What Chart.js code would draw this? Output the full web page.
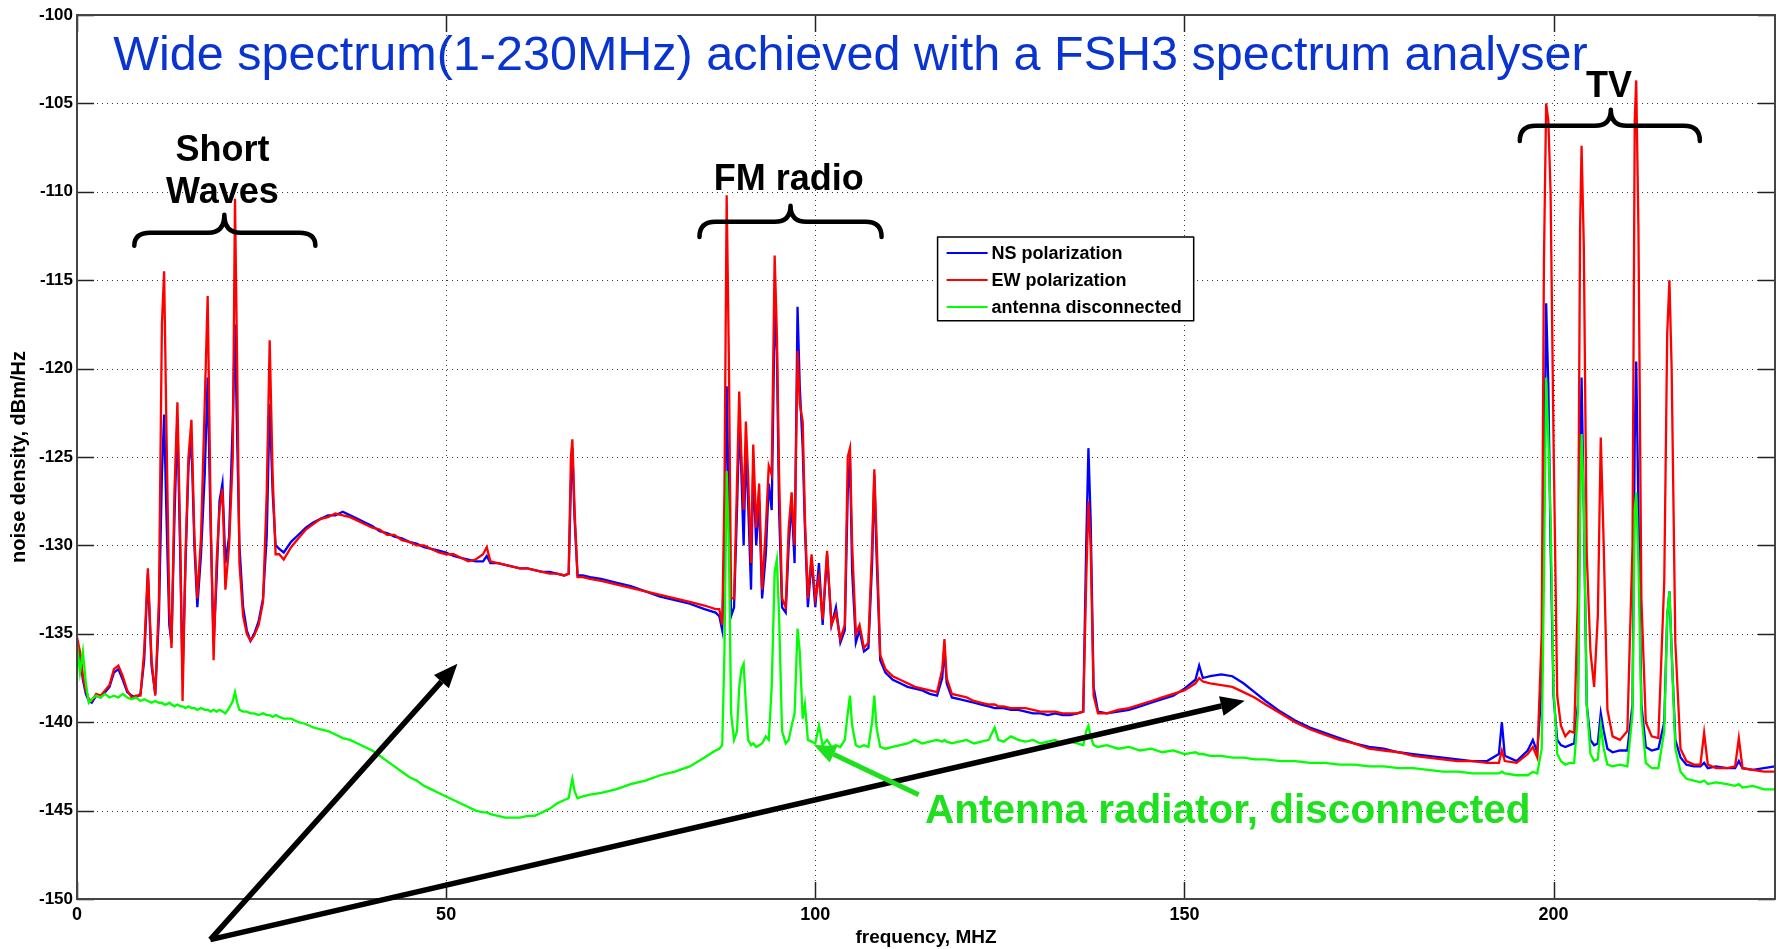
<!DOCTYPE html>
<html><head><meta charset="utf-8">
<script src="https://cdn.jsdelivr.net/npm/chart.js@4.4.0/dist/chart.umd.min.js"></script>
<style>html,body{margin:0;padding:0;background:#fff;}#wrap{width:1781px;height:949px;}</style>
</head><body><div id="wrap"><canvas id="c" width="1781" height="949"></canvas></div>
<script>
// ---------- data ----------
const freqMHz = [
  0,0.4,0.8,1.2,1.6,2,2.6,3.2,3.8,4.4,5,5.6,6.2,6.8,7.4,8,8.6,9.1,9.6,10.1,10.6,11.1,11.5,11.8,12.1,12.5,12.8,13.2,13.6,14,14.3,14.7,15.1,15.5,15.9,16.3,16.8,17.3,17.7,18.1,18.5,18.9,19.3,19.7,20.1,20.6,21.1,21.4,21.7,22,22.5,23,23.5,24,24.6,25.2,25.7,26.1,26.5,26.9,27.4,28,
  29,30,31,32,33,34,35,36,37,38,39,40,41,42,43,44,45,46,47,48,49,50,51,52,53,54,55,55.5,56,57,58,59,60,61,62,63,64,65,66,66.6,66.9,67.1,67.4,67.8,68.5,69.5,71,73,75,77,79,81,83,85,86.5,
  87,87.4,87.7,88,88.3,88.6,89,89.4,89.7,90,90.3,90.6,90.9,91.3,91.6,92,92.4,92.8,93.3,93.7,94.1,94.5,94.8,95.1,95.5,96,96.4,96.8,97.2,97.6,97.9,98.3,98.6,99,99.5,100,100.5,101,101.6,102.2,102.8,103.4,104,104.4,104.7,105,105.5,106,106.6,107.2,107.7,108,108.3,108.8,109.5,110.5,111.5,
  112.5,113.5,114.5,115.5,116.5,117.2,117.5,117.8,118.5,119.5,120.5,121.5,122.5,123.5,124.3,124.8,125.5,126.5,127.5,128.5,129.5,130.5,131.5,132.5,133.5,134.5,135.5,136.3,136.7,137,137.3,137.7,138.3,139.5,141,142.5,144,145.5,147,148.5,150,151.5,152,152.5,153.5,155,156.5,158,159.5,161,163,165,167,169,171,173,175,177,179,181,183,185,187,189,191,192.6,193,193.4,195,196.5,197.2,197.8,
  198.4,198.7,199,199.3,199.6,200,200.5,201,201.6,202.2,202.8,203.3,203.6,203.8,204.1,204.5,205,205.5,206,206.4,206.8,207.3,208,209,210,210.7,211,211.2,211.5,211.9,212.5,213.3,214.2,215,215.4,215.7,216,216.5,217.2,218,219,219.9,220.4,220.9,222,223.5,224.6,225.1,225.6,227,228.5,230
];
const nsPolarization = [
  -135.4,-136.2,-137.6,-138.4,-138.8,-138.9,-138.5,-138.6,-138.3,-138.0,-137.2,-137.0,-137.6,-138.3,-138.5,-138.6,-138.4,-136.5,-131.6,-136.8,-138.4,-134.0,-126.0,-122.6,-128.0,-134.5,-135.5,-128.5,-122.8,-131.0,-137.5,-131.0,-125.5,-124.0,-130.0,-133.5,-130.5,-126.0,-120.5,-129.0,-135.5,-132.0,-127.5,-126.5,-131.0,-129.5,-123.0,-117.5,-124.0,-130.0,-133.5,-134.8,-135.4,-135.0,-134.3,-133.0,-129.5,-122.0,-127.0,-130.0,-130.2,-130.4,
  -129.8,-129.4,-129.0,-128.7,-128.5,-128.3,-128.3,-128.1,-128.3,-128.5,-128.7,-128.9,-129.2,-129.3,-129.5,-129.6,-129.8,-129.9,-130.1,-130.2,-130.3,-130.4,-130.6,-130.7,-130.8,-130.9,-130.9,-130.6,-131.0,-131.0,-131.1,-131.2,-131.3,-131.3,-131.4,-131.5,-131.5,-131.6,-131.7,-131.6,-126.5,-124.5,-128.5,-131.7,-131.7,-131.8,-131.9,-132.1,-132.3,-132.6,-132.9,-133.1,-133.3,-133.6,-133.8,
  -134.0,-134.8,-130.0,-121.0,-128.0,-134.0,-133.5,-128.0,-123.0,-126.0,-130.0,-124.5,-127.5,-132.5,-125.5,-130.0,-127.5,-133.0,-130.5,-126.5,-128.0,-116.8,-119.0,-128.0,-133.5,-133.8,-130.0,-127.5,-131.0,-116.5,-121.0,-124.5,-129.0,-133.5,-130.8,-133.5,-131.0,-134.5,-130.5,-134.5,-133.5,-135.5,-134.8,-127.0,-125.0,-131.5,-135.5,-134.8,-136.0,-135.8,-131.0,-126.0,-130.5,-136.5,-137.2,-137.6,-137.8,
  -138.0,-138.1,-138.2,-138.4,-138.5,-137.5,-135.8,-137.8,-138.6,-138.7,-138.8,-138.9,-139.0,-139.1,-139.2,-139.2,-139.2,-139.3,-139.3,-139.4,-139.5,-139.5,-139.6,-139.5,-139.6,-139.6,-139.5,-139.4,-130.0,-124.5,-128.5,-138.0,-139.4,-139.5,-139.4,-139.3,-139.1,-138.9,-138.7,-138.5,-138.1,-137.6,-136.8,-137.5,-137.4,-137.3,-137.4,-137.8,-138.3,-138.8,-139.4,-139.9,-140.3,-140.6,-140.9,-141.2,-141.4,-141.5,-141.7,-141.8,-141.9,-142.0,-142.1,-142.2,-142.2,-141.8,-140.0,-141.9,-142.2,-141.6,-141.0,-141.7,
  -138.0,-128.0,-116.3,-121.0,-130.0,-138.5,-141.0,-141.3,-141.4,-141.3,-141.2,-139.0,-126.0,-120.5,-128.0,-139.0,-141.0,-141.3,-141.2,-139.5,-140.5,-141.5,-141.7,-141.6,-141.6,-139.0,-124.0,-119.6,-128.0,-139.0,-141.4,-141.6,-141.5,-140.0,-134.0,-132.6,-136.0,-141.0,-142.0,-142.4,-142.5,-142.5,-142.3,-142.6,-142.5,-142.6,-142.6,-142.2,-142.6,-142.7,-142.6,-142.5
];
const ewPolarization = [
  -135.2,-136.0,-137.4,-138.2,-138.7,-138.8,-138.4,-138.5,-138.2,-137.9,-137.0,-136.8,-137.4,-138.2,-138.6,-138.5,-138.5,-136.0,-131.3,-136.5,-138.5,-133.0,-117.5,-114.5,-123.0,-133.5,-135.8,-127.0,-121.9,-130.0,-138.8,-130.5,-125.0,-122.9,-129.5,-133.0,-129.5,-122.0,-115.9,-128.0,-136.5,-131.0,-128.0,-126.8,-132.5,-130.0,-125.0,-110.4,-120.0,-131.0,-134.0,-135.0,-135.4,-135.1,-134.5,-133.2,-127.0,-118.4,-126.0,-130.5,-130.5,-130.8,
  -130.1,-129.6,-129.1,-128.8,-128.5,-128.4,-128.2,-128.3,-128.4,-128.6,-128.8,-129.0,-129.1,-129.4,-129.4,-129.7,-129.8,-130.0,-130.0,-130.2,-130.4,-130.5,-130.5,-130.7,-130.9,-130.8,-130.5,-130.1,-130.9,-131.0,-131.1,-131.2,-131.3,-131.3,-131.4,-131.5,-131.6,-131.6,-131.7,-131.6,-125.0,-124.0,-128.0,-131.8,-131.8,-131.9,-132.0,-132.2,-132.4,-132.6,-132.8,-133.0,-133.2,-133.4,-133.6,
  -133.6,-134.5,-127.0,-110.2,-119.5,-133.0,-133.0,-126.5,-121.3,-125.0,-128.0,-123.0,-126.0,-131.0,-124.3,-129.0,-126.5,-132.5,-129.0,-125.5,-126.0,-113.6,-118.0,-126.0,-133.0,-133.5,-129.0,-127.0,-130.0,-119.0,-122.0,-123.0,-128.5,-133.0,-130.5,-133.0,-131.8,-134.2,-130.3,-134.5,-133.8,-135.3,-134.5,-125.0,-124.5,-130.0,-135.0,-134.5,-135.8,-135.5,-130.0,-125.7,-129.5,-136.2,-137.0,-137.4,-137.6,
  -137.8,-138.0,-138.1,-138.2,-138.3,-137.0,-135.3,-137.5,-138.4,-138.5,-138.6,-138.8,-138.9,-139.0,-139.0,-139.1,-139.1,-139.2,-139.2,-139.2,-139.3,-139.4,-139.4,-139.4,-139.5,-139.5,-139.5,-139.4,-132.0,-127.5,-130.0,-138.5,-139.5,-139.5,-139.3,-139.2,-139.0,-138.8,-138.6,-138.4,-138.2,-137.8,-137.5,-137.7,-137.8,-137.9,-138.0,-138.3,-138.6,-139.0,-139.5,-140.0,-140.4,-140.7,-141.0,-141.2,-141.5,-141.6,-141.7,-141.9,-142.0,-142.1,-142.2,-142.2,-142.3,-142.3,-141.6,-142.2,-142.3,-141.8,-141.4,-142.0,
  -135.0,-114.0,-105.0,-106.0,-110.0,-124.0,-138.5,-140.2,-140.8,-140.5,-140.6,-133.0,-112.0,-107.4,-113.0,-130.5,-136.0,-138.0,-134.0,-123.9,-130.0,-139.3,-140.8,-141.0,-140.5,-130.0,-106.0,-103.7,-112.0,-133.0,-140.0,-140.8,-140.9,-132.0,-118.0,-115.0,-120.0,-135.5,-141.5,-142.2,-142.4,-142.4,-140.6,-142.4,-142.6,-142.6,-142.5,-140.9,-142.6,-142.7,-142.8,-142.8
];
const antennaDisconnected = [
  -135.6,-137.2,-136.0,-137.8,-138.9,-138.7,-138.5,-138.6,-138.4,-138.6,-138.5,-138.6,-138.4,-138.6,-138.7,-138.6,-138.8,-138.7,-138.8,-138.9,-138.8,-138.9,-138.9,-139.0,-139.0,-138.9,-139.0,-139.1,-139.0,-139.1,-139.1,-139.2,-139.1,-139.2,-139.2,-139.3,-139.2,-139.3,-139.3,-139.4,-139.3,-139.4,-139.3,-139.4,-139.5,-139.2,-138.8,-138.3,-138.9,-139.3,-139.4,-139.4,-139.5,-139.5,-139.6,-139.5,-139.6,-139.6,-139.7,-139.6,-139.7,-139.8,
  -139.8,-140.0,-140.1,-140.3,-140.4,-140.5,-140.7,-140.9,-141.0,-141.2,-141.4,-141.6,-141.9,-142.2,-142.5,-142.8,-143.1,-143.3,-143.6,-143.8,-144.0,-144.2,-144.4,-144.6,-144.8,-145.0,-145.1,-145.1,-145.2,-145.3,-145.4,-145.4,-145.4,-145.3,-145.3,-145.1,-144.9,-144.6,-144.4,-144.3,-143.6,-143.2,-143.9,-144.3,-144.2,-144.1,-144.0,-143.8,-143.5,-143.3,-143.0,-142.8,-142.5,-142.0,-141.6,
  -141.5,-141.3,-136.0,-125.8,-130.0,-139.5,-141.0,-140.5,-138.0,-137.0,-136.7,-139.0,-141.0,-141.3,-141.2,-141.4,-141.3,-141.2,-140.8,-141.0,-138.0,-131.5,-130.8,-134.0,-140.5,-141.2,-141.0,-140.2,-139.5,-134.7,-136.0,-139.8,-139.0,-141.0,-141.1,-141.2,-140.2,-141.3,-141.0,-141.4,-141.3,-141.4,-141.0,-139.5,-138.5,-140.2,-141.3,-141.4,-141.3,-141.4,-140.0,-138.5,-140.3,-141.4,-141.5,-141.4,-141.3,
  -141.2,-141.0,-141.2,-141.1,-141.0,-141.1,-141.0,-141.1,-141.2,-141.1,-141.0,-141.2,-141.1,-141.0,-140.3,-141.0,-141.1,-140.8,-141.0,-141.1,-141.0,-141.2,-141.1,-141.0,-141.2,-141.1,-141.2,-141.3,-140.5,-140.2,-140.8,-141.3,-141.4,-141.3,-141.5,-141.4,-141.6,-141.5,-141.7,-141.6,-141.8,-141.7,-141.8,-141.8,-141.9,-141.9,-142.0,-142.0,-142.1,-142.1,-142.2,-142.2,-142.3,-142.3,-142.4,-142.4,-142.5,-142.5,-142.6,-142.6,-142.7,-142.8,-142.8,-142.9,-142.9,-142.9,-142.8,-142.9,-143.0,-143.0,-142.8,-142.9,
  -141.5,-132.0,-120.5,-124.0,-128.5,-138.0,-141.8,-142.2,-142.4,-142.3,-142.3,-139.5,-128.0,-123.7,-127.5,-139.0,-141.8,-142.2,-142.1,-140.2,-141.5,-142.4,-142.5,-142.4,-142.5,-139.5,-128.0,-127.0,-131.0,-139.5,-142.3,-142.6,-142.6,-140.5,-134.0,-132.6,-136.0,-141.5,-142.8,-143.2,-143.3,-143.4,-143.3,-143.5,-143.4,-143.5,-143.6,-143.5,-143.7,-143.6,-143.8,-143.8
];
const seriesLabels = ['NS polarization', 'EW polarization', 'antenna disconnected'];
const seriesColors = ['#0000ff', '#ff0000', '#00ff00'];
const xTickValues = [0, 50, 100, 150, 200];
const yTickValues = [-150, -145, -140, -135, -130, -125, -120, -115, -110, -105, -100];
const titleText = 'Wide spectrum(1-230MHz) achieved with a FSH3 spectrum analyser';
const xAxisTitle = 'frequency, MHZ';
const yAxisTitle = 'noise density, dBm/Hz';

// ---------- rendering ----------
const FONT = '"Liberation Sans", Arial, Helvetica, sans-serif';
const pts = vals => freqMHz.map((f, i) => ({x: f, y: vals[i]}));

const framePlugin = {
  id: 'frame',
  beforeDatasetsDraw(chart) {
    const {ctx, chartArea: a, scales: {x, y}} = chart;
    ctx.save();
    ctx.lineWidth = 1;
    ctx.strokeStyle = '#3a3a3a';
    ctx.setLineDash([1, 4]);
    xTickValues.forEach(v => {
      const px = Math.round(x.getPixelForValue(v)) + 0.5;
      if (px <= a.left + 2 || px >= a.right - 2) return;
      ctx.beginPath(); ctx.moveTo(px, a.top); ctx.lineTo(px, a.bottom); ctx.stroke();
    });
    yTickValues.forEach(v => {
      const py = Math.round(y.getPixelForValue(v)) + 0.5;
      if (py <= a.top + 2 || py >= a.bottom - 2) return;
      ctx.beginPath(); ctx.moveTo(a.left, py); ctx.lineTo(a.right, py); ctx.stroke();
    });
    ctx.setLineDash([]);
    ctx.strokeStyle = '#222';
    ctx.lineWidth = 1.5;
    const L = 17;
    xTickValues.forEach(v => {
      const px = Math.round(x.getPixelForValue(v)) + 0.5;
      ctx.beginPath(); ctx.moveTo(px, a.bottom); ctx.lineTo(px, a.bottom - L); ctx.stroke();
      ctx.beginPath(); ctx.moveTo(px, a.top); ctx.lineTo(px, a.top + L); ctx.stroke();
    });
    yTickValues.forEach(v => {
      const py = Math.round(y.getPixelForValue(v)) + 0.5;
      ctx.beginPath(); ctx.moveTo(a.left, py); ctx.lineTo(a.left + L, py); ctx.stroke();
      ctx.beginPath(); ctx.moveTo(a.right, py); ctx.lineTo(a.right - L, py); ctx.stroke();
    });
    ctx.restore();
  },
  afterDatasetsDraw(chart) {
    const {ctx, chartArea: a} = chart;
    ctx.save();
    ctx.strokeStyle = '#444';
    ctx.lineWidth = 2;
    ctx.strokeRect(a.left, a.top, a.right - a.left, a.bottom - a.top);
    ctx.restore();
  }
};

function brace(ctx, x1, x2, xc, yEnd, yH, yTop) {
  const r = 16;
  ctx.beginPath();
  ctx.moveTo(x1, yEnd);
  ctx.quadraticCurveTo(x1, yH, x1 + r, yH);
  ctx.lineTo(xc - r, yH);
  ctx.quadraticCurveTo(xc, yH, xc, yTop);
  ctx.quadraticCurveTo(xc, yH, xc + r, yH);
  ctx.lineTo(x2 - r, yH);
  ctx.quadraticCurveTo(x2, yH, x2, yEnd);
  ctx.stroke();
}
function arrow(ctx, x0, y0, x1, y1, color, w, headLen, headHalf) {
  const ang = Math.atan2(y1 - y0, x1 - x0);
  const bx = x1 - headLen * Math.cos(ang), by = y1 - headLen * Math.sin(ang);
  ctx.strokeStyle = color; ctx.fillStyle = color; ctx.lineWidth = w; ctx.lineCap = 'butt';
  ctx.beginPath(); ctx.moveTo(x0, y0); ctx.lineTo(bx, by); ctx.stroke();
  ctx.beginPath();
  ctx.moveTo(x1, y1);
  ctx.lineTo(bx + headHalf * Math.sin(ang), by - headHalf * Math.cos(ang));
  ctx.lineTo(bx - headHalf * Math.sin(ang), by + headHalf * Math.cos(ang));
  ctx.closePath(); ctx.fill();
}

const annotationPlugin = {
  id: 'annotations',
  afterDraw(chart) {
    const {ctx, scales: {x, y}} = chart;
    const X = v => x.getPixelForValue(v), Y = v => y.getPixelForValue(v);
    ctx.save();
    // title
    ctx.fillStyle = '#0a34d0';
    ctx.font = '48.5px ' + FONT;
    ctx.textAlign = 'left'; ctx.textBaseline = 'alphabetic';
    ctx.fillText(titleText, X(4.92), Y(-103.1));
    // band labels
    ctx.fillStyle = '#000';
    ctx.font = 'bold 36px ' + FONT;
    ctx.textAlign = 'center';
    ctx.fillText('Short', X(19.7), Y(-108.25));
    ctx.fillText('Waves', X(19.7), Y(-110.62));
    ctx.fillText('FM radio', X(96.4), Y(-109.89));
    ctx.fillText('TV', X(207.5), Y(-104.63));
    // braces
    ctx.strokeStyle = '#000'; ctx.lineWidth = 4.5; ctx.lineCap = 'round'; ctx.lineJoin = 'round';
    brace(ctx, X(7.76), X(32.29), X(19.96), Y(-113.05), Y(-112.32), Y(-111.3));
    brace(ctx, X(84.32), X(108.98), X(96.65), Y(-112.55), Y(-111.7), Y(-110.79));
    brace(ctx, X(195.43), X(219.82), X(207.76), Y(-107.12), Y(-106.27), Y(-105.36));
    // arrows
    arrow(ctx, X(18.06), Y(-152.3), X(51.53), Y(-136.69), '#000', 5.5, 24, 10);
    arrow(ctx, X(18.06), Y(-152.3), X(158.17), Y(-138.78), '#000', 5.5, 24, 10);
    arrow(ctx, X(114.0), Y(-144.1), X(99.78), Y(-141.28), '#1ee01e', 5, 22, 9);
    // green note
    ctx.fillStyle = '#1ee01e';
    ctx.font = 'bold 40.5px ' + FONT;
    ctx.textAlign = 'center'; ctx.textBaseline = 'middle';
    ctx.fillText('Antenna radiator, disconnected', X(155.87), Y(-145.07));
    // legend box
    const lx0 = X(116.57), ly0 = Y(-112.55), lx1 = X(151.26), ly1 = Y(-117.3);
    ctx.fillStyle = '#fff';
    ctx.fillRect(lx0, ly0, lx1 - lx0, ly1 - ly0);
    ctx.strokeStyle = '#000'; ctx.lineWidth = 1.5; ctx.lineCap = 'butt';
    ctx.strokeRect(lx0, ly0, lx1 - lx0, ly1 - ly0);
    ctx.font = 'bold 18px ' + FONT;
    ctx.textAlign = 'left'; ctx.textBaseline = 'middle';
    seriesLabels.forEach((lab, i) => {
      const ry = ly0 + 16 + i * 27;
      ctx.strokeStyle = seriesColors[i]; ctx.lineWidth = 2;
      ctx.beginPath(); ctx.moveTo(lx0 + 9, ry); ctx.lineTo(lx0 + 50, ry); ctx.stroke();
      ctx.fillStyle = '#000';
      ctx.fillText(lab, lx0 + 54, ry + 1);
    });
    ctx.restore();
  }
};

new Chart(document.getElementById('c'), {
  type: 'line',
  data: {
    datasets: [
      {label: seriesLabels[0], data: pts(nsPolarization), borderColor: seriesColors[0], borderWidth: 2.3, pointRadius: 0, tension: 0, fill: false, order: 2},
      {label: seriesLabels[1], data: pts(ewPolarization), borderColor: seriesColors[1], borderWidth: 2.3, pointRadius: 0, tension: 0, fill: false, order: 1},
      {label: seriesLabels[2], data: pts(antennaDisconnected), borderColor: seriesColors[2], borderWidth: 2.3, pointRadius: 0, tension: 0, fill: false, order: 0}
    ]
  },
  options: {
    responsive: false,
    animation: false,
    devicePixelRatio: 1,
    layout: {padding: {left: 0, right: 6, top: 15, bottom: 0}},
    plugins: {legend: {display: false}, tooltip: {enabled: false}},
    scales: {
      x: {
        type: 'linear', min: 0, max: 230,
        afterBuildTicks: s => { s.ticks = xTickValues.map(v => ({value: v})); },
        afterFit: s => { s.height = 50; },
        grid: {display: false, drawTicks: false},
        border: {display: false},
        ticks: {color: '#000', padding: 5, maxRotation: 0, autoSkip: false, font: {family: FONT, size: 18, weight: 'bold'}},
        title: {display: true, text: xAxisTitle, color: '#000', padding: {top: 0, bottom: 0}, font: {family: FONT, size: 19, weight: 'bold'}}
      },
      y: {
        type: 'linear', min: -150, max: -100,
        afterBuildTicks: s => { s.ticks = yTickValues.map(v => ({value: v})); },
        afterFit: s => { s.width = 77; },
        grid: {display: false, drawTicks: false},
        border: {display: false},
        ticks: {color: '#000', padding: 4, autoSkip: false, font: {family: FONT, size: 17, weight: 'bold'}},
        title: {display: true, text: yAxisTitle, color: '#000', padding: {top: 7, bottom: 0}, font: {family: FONT, size: 20, weight: 'bold'}}
      }
    }
  },
  plugins: [framePlugin, annotationPlugin]
});
</script>
</body></html>
